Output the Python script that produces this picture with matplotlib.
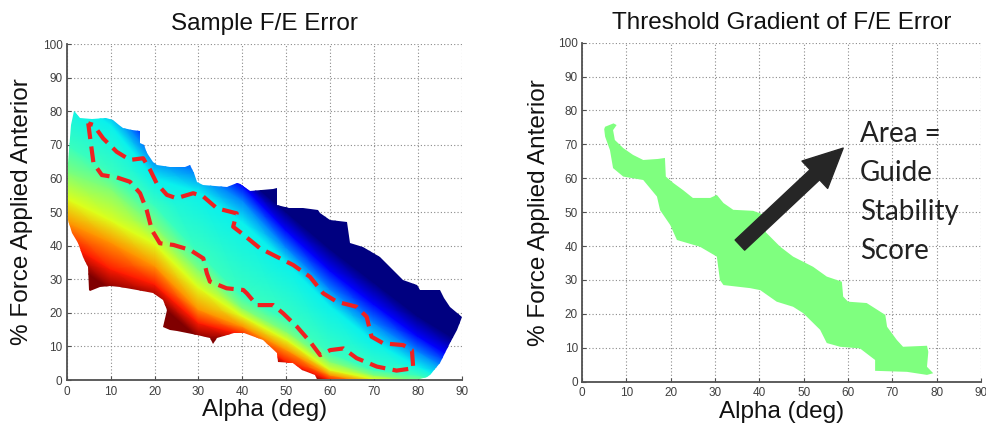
import numpy as np
import matplotlib.pyplot as plt
from matplotlib.patches import Polygon

# ---- left panel: sampled F/E error (jet coloured field) ----
# y position (% force) of each colour level, read per alpha column
alpha_cols = [0, 10, 20, 30, 40, 50, 60, 70, 80, 90]
err_levels = [1.0, 0.88, 0.75, 0.62, 0.5, 0.42, 0.36, 0.25, 0.12, 0.0]
level_force = [
    [36, 27, 24, 12.5, 11, 3, -1.5, -3, -4, -8],
    [41, 33, 28.5, 17, 13.5, 5.5, 0, -2, -3, -7],
    [47, 41, 34, 21, 16, 9, 1.5, -1, -2, -6],
    [54, 47.5, 40.5, 27.5, 19, 12, 3, 0.3, -1, -5],
    [62, 57, 46, 33, 21.5, 14.5, 5.5, 1.5, 0, -4],
    [70, 62, 52, 38, 25, 18, 8, 3, 1.5, -3],
    [84, 76, 60, 56, 47, 35, 22, 11.5, 4, -2],
    [90, 82, 66, 62, 53.5, 39.5, 27, 17, 8.5, 1],
    [95, 87, 72, 68, 58, 44.5, 32.5, 22.5, 13, 5],
    [100, 92, 78, 74, 61, 50, 39, 29, 19, 11],
]

# outline of the sampled region
region_alpha = [0.3, 1, 1.7, 3, 5.7, 9, 10.6, 11.8, 12.9, 14.8, 16.7, 16.7, 17.5, 18.2,
                19.7, 20.5, 23.5, 27, 28, 28.9, 29.7, 31, 36.5, 38.8, 39.5, 41.8, 47,
                47.9, 47.9, 50.6, 53.9, 57.2, 57.7, 60, 63.8, 64.5, 67.5, 71.3, 76.6,
                79.7, 80.5, 85, 85.8, 87.3, 89.9, 88.8, 87.3, 85, 82.7, 82, 80.5, 57,
                56.6, 53.6, 51.6, 48, 47.9, 44.8, 40.3, 38, 34.2, 33.4, 32.7, 29.7, 25,
                23.5, 22, 22.8, 22, 19.7, 16, 12.2, 9.9, 7.6, 5.3, 5.1, 4.9, 3.8, 2.6,
                1.2, 0.3]
region_force = [64.6, 76, 80, 78, 77.6, 78, 77.4, 76, 75, 74.4, 74.1, 70.5, 70, 67.5,
                65, 64, 63.4, 63.4, 64, 61.6, 59, 58, 57.4, 58.6, 58.3, 56.3, 56.8,
                57, 52.2, 51.2, 51.2, 50.6, 49.6, 47.6, 47.1, 40.7, 39.7, 36.7, 29.8,
                28.2, 26.8, 26.8, 24.5, 21.8, 18.8, 14.9, 10.9, 5, 1.5, 0.8, 0.3, 0.3,
                1.5, 3, 5, 5.4, 8, 11.9, 14, 14, 12.5, 10.7, 12.5, 13.4, 14.6,
                14.9, 15.8, 20.8, 23.8, 25.9, 26.8, 27.7, 28, 27.7, 26.5, 26.8, 33.6, 36.6, 40.8,
                43.7, 47.6]

# red dashed contour (closed loop)
contour_alpha = [4.9, 5.3, 6.1, 8, 11.4, 14.4, 16.7, 18.2, 19.4, 21.2, 24.3, 28.1, 31.1,
                 31.9, 32.6, 36.4, 40.2, 41, 43.3, 47, 49.3, 52.4, 55.4, 57.7, 60, 63,
                 66, 70.6, 75.1, 78.9, 78.6, 76.6, 72.1, 69.4, 68.3, 66, 61.5, 58.4,
                 55.4, 51.6, 47.8, 44, 39.8, 37.9, 38.7, 34.2, 31.1, 28.8, 25, 22.8,
                 20.5, 19, 17.4, 14.4, 11.4, 8.3, 6.1, 4.9]
contour_force = [76.4, 72.4, 64.5, 61, 60.3, 59, 55.6, 50.6, 44.6, 40.7, 40.2, 38.7, 36.2,
                 31.8, 29.3, 27.3, 26.8, 25.8, 22.3, 22.3, 19.8, 15.9, 11.4, 7.4, 8.9, 9.4,
                 6.5, 4, 2.8, 3.5, 8.9, 10.4, 10.9, 12.9, 18.8, 21.8, 23.3, 25.8,
                 30.7, 34.2, 36.7, 39.2, 43.7, 45.6, 49.6, 51.1, 54.6, 55.6, 54.1, 55.1,
                 58.5, 62.5, 66, 65.5, 67.9, 71.9, 75.9, 76.4]

# ---- right panel: thresholded gradient region ----
stable_alpha = [5.2, 7.1, 7.8, 7, 7.4, 9.3, 11.5, 13.8, 17.1, 18.7, 18.9, 20.6, 22.8, 25,
                28.9, 30.4, 31.9, 34.1, 38.6, 40.5, 41.5, 44.7, 47.6, 52.1, 55.2, 58.6,
                58.9, 60, 64.2, 68.4, 68.8, 71, 72.4, 77.8, 78.1, 77.8, 79.2, 77.8, 73.3,
                66.1, 66.1, 62.7, 58.2, 55.2, 53.7, 49.9, 47.6, 43.9, 40.2, 37.9, 31.9,
                31.1, 30.4, 26.6, 21.4, 19.9, 17.6, 16.9, 13.8, 11.5, 9.3, 7, 6.3, 5.2, 5]
stable_force = [75.2, 76.2, 75.7, 74.2, 71.3, 68.9, 66.9, 65.4, 65.7, 66, 60.5, 58.6, 56.5,
                54.2, 54.2, 55.1, 52.7, 50.7, 50.4, 49.5, 44, 39.8, 36.9, 33.9, 31, 29.5,
                25.1, 23.6, 23.2, 19.7, 16.2, 12.3, 10.3, 10.6, 8.8, 4.4, 2.5, 2, 2.9,
                3.2, 6.4, 9.8, 10.3, 11.4, 15.3, 20.2, 22.1, 23.6, 27, 27.6, 28.5,
                30, 36.9, 39.8, 41.8, 46.2, 50.6, 54.6, 59.5, 60, 60.5, 63, 68.3, 72.3, 74.5]

arrow_tail = (35.6, 40.3)
arrow_tip = (58.9, 68.9)
note_text = "Area =\nGuide\nStability\nScore"

plt.rcParams['font.family'] = ['Liberation Sans', 'DejaVu Sans']


def style_axes(ax, title):
    ax.set_xlim(0, 90)
    ax.set_ylim(0, 100)
    ax.set_xticks(range(0, 91, 10))
    ax.set_yticks(range(0, 101, 10))
    ax.grid(True, ls=(0, (1, 2)), color='#8a8a8a', lw=0.8)
    ax.set_axisbelow(True)
    for s in ['top', 'right']:
        ax.spines[s].set_visible(False)
    for s in ['left', 'bottom']:
        ax.spines[s].set_color('#505050')
        ax.spines[s].set_linewidth(1.3)
    ax.tick_params(direction='in', length=3, width=0.8, color='#505050',
                   labelsize=8.5, labelcolor='#404040')
    ax.tick_params(axis='y', pad=3)
    ax.tick_params(axis='x', pad=4)
    ax.set_title(title, fontsize=17.5, pad=10, color='#111111')
    ax.set_xlabel("Alpha (deg)", fontsize=17.5, color='#111111')
    ax.set_ylabel("% Force Applied Anterior", fontsize=17.5, color='#111111')
    ax.xaxis.set_label_coords(0.5, -0.058)


fig = plt.figure(figsize=(9.87, 4.29), dpi=100)
ax1 = fig.add_axes([0.0676, 0.1142, 0.4005, 0.7832])
ax2 = fig.add_axes([0.5897, 0.1103, 0.4043, 0.7902])

# left: jet field clipped to the sampled region
ncols = len(alpha_cols)
X = np.tile(np.array(alpha_cols, float), (len(err_levels) + 2, 1))
Y = np.vstack([np.full(ncols, -20.0), np.array(level_force, float), np.full(ncols, 120.0)])
C = np.outer(np.concatenate([[1.0], err_levels, [0.0]]), np.ones(ncols))
mesh = ax1.pcolormesh(X, Y, C, shading='gouraud', cmap='jet', vmin=0, vmax=1, zorder=1)
clip = Polygon(np.column_stack([region_alpha, region_force]), closed=True,
               facecolor='none', edgecolor='none', transform=ax1.transData)
ax1.add_patch(clip)
mesh.set_clip_path(clip)
ax1.plot(contour_alpha, contour_force, color='#f02020', lw=3.0,
         ls=(0, (3.8, 1.8)), zorder=3)
style_axes(ax1, "Sample F/E Error")
ax1.yaxis.set_label_coords(-0.085, 0.5)

# right: green stable region, arrow and note
ax2.fill(stable_alpha, stable_force, color='#7fff7f', lw=0, zorder=1)
ax2.annotate('', xy=arrow_tip, xytext=arrow_tail,
             arrowprops=dict(width=10, headwidth=27, headlength=28, shrink=0,
                             facecolor='#262626', edgecolor='#262626'), zorder=4)
ax2.text(62.7, 77, note_text, fontsize=20, family=['Lato', 'DejaVu Sans'],
         color='#222222', va='top', ha='left', linespacing=1.62, zorder=4)
style_axes(ax2, "Threshold Gradient of F/E Error")
ax2.yaxis.set_label_coords(-0.08, 0.5)

fig.savefig("out.png", dpi=100)
